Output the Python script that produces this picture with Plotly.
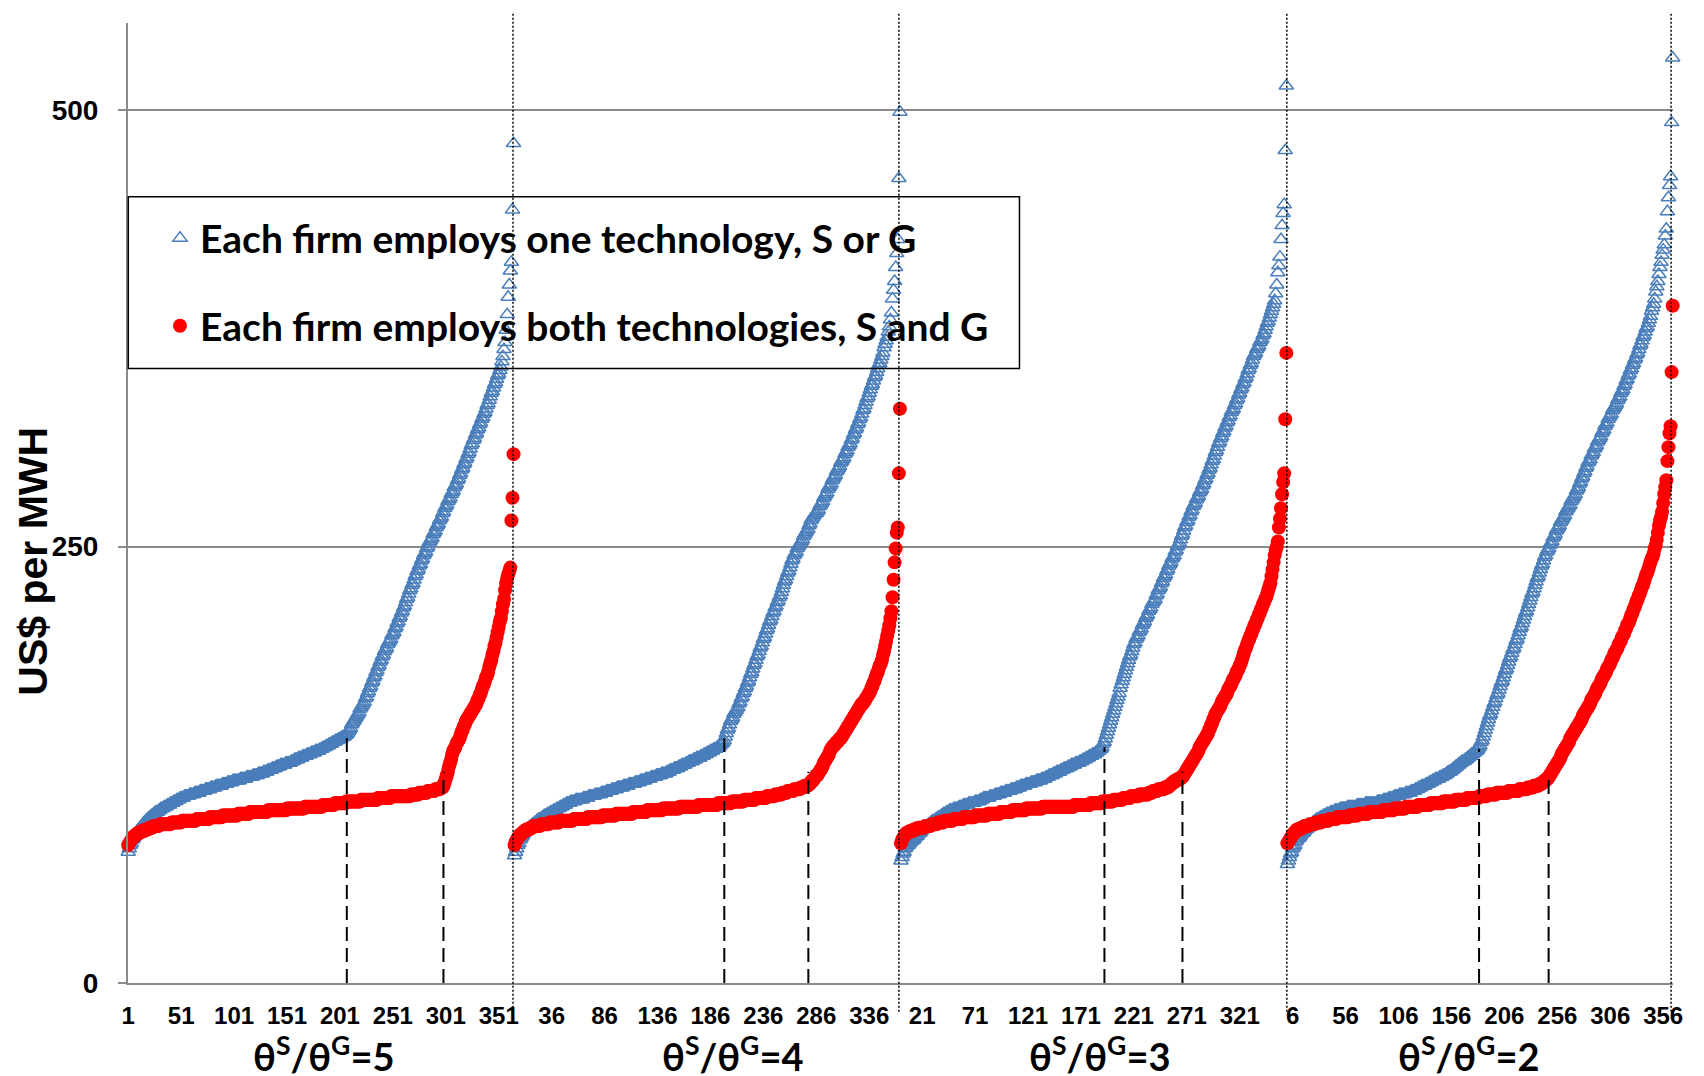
import plotly.graph_objects as go

# ---------------------------------------------------------------------------
# Sorted cost curves (US$ per MWH), 365 firms per scenario.
# "one_*"  : each firm employs one technology, S or G
# "both_*" : each firm employs both technologies, S and G
# ---------------------------------------------------------------------------
one_ratio5 = [
    75, 77, 79, 80, 82, 83, 84, 85, 86, 87, 88, 89, 89, 90, 91, 92, 92, 93, 94, 94,
    95, 95, 96, 96, 97, 97, 98, 98, 98, 99, 99, 100, 100, 100, 101, 101, 101, 102, 102, 102,
    103, 103, 103, 104, 104, 104, 105, 105, 105, 106, 106, 106, 106, 107, 107, 107, 107, 107, 108, 108,
    108, 108, 108, 109, 109, 109, 109, 109, 110, 110, 110, 110, 110, 111, 111, 111, 111, 111, 112, 112,
    112, 112, 112, 113, 113, 113, 113, 113, 113, 114, 114, 114, 114, 114, 115, 115, 115, 115, 115, 116,
    116, 116, 116, 116, 116, 116, 117, 117, 117, 117, 117, 117, 118, 118, 118, 118, 118, 118, 119, 119,
    119, 119, 119, 120, 120, 120, 120, 120, 121, 121, 121, 121, 122, 122, 122, 122, 123, 123, 123, 123,
    124, 124, 124, 124, 125, 125, 125, 125, 125, 126, 126, 126, 126, 126, 127, 127, 127, 128, 128, 128,
    128, 129, 129, 129, 129, 130, 130, 130, 130, 131, 131, 131, 131, 132, 132, 132, 132, 133, 133, 133,
    133, 134, 134, 134, 135, 135, 135, 136, 136, 136, 137, 137, 137, 138, 138, 138, 139, 139, 139, 140,
    140, 140, 141, 141, 141, 142, 142, 143, 144, 145, 146, 148, 149, 150, 151, 152, 153, 154, 155, 157,
    158, 159, 160, 161, 163, 164, 166, 167, 169, 170, 172, 173, 175, 176, 178, 179, 181, 182, 184, 185,
    187, 188, 190, 191, 192, 194, 195, 196, 197, 199, 200, 201, 203, 204, 206, 207, 209, 210, 212, 213,
    215, 216, 218, 220, 221, 223, 225, 226, 228, 229, 231, 233, 234, 236, 237, 239, 240, 242, 243, 245,
    246, 247, 249, 250, 252, 253, 254, 255, 257, 258, 259, 261, 262, 263, 265, 266, 267, 269, 270, 272,
    273, 274, 276, 277, 278, 280, 281, 282, 284, 285, 286, 288, 289, 291, 292, 294, 295, 297, 298, 300,
    301, 303, 304, 306, 308, 309, 311, 312, 314, 315, 317, 318, 320, 321, 323, 324, 326, 327, 329, 331,
    332, 334, 336, 338, 339, 341, 343, 344, 346, 348, 349, 351, 353, 356, 359, 363, 367, 374, 383, 393,
    400, 408, 413, 443, 481,
]
both_ratio5 = [
    79, 80, 81, 82, 83, 84, 84, 85, 85, 86, 86, 86, 87, 87, 87, 87, 88, 88, 88, 88,
    89, 89, 89, 89, 90, 90, 90, 90, 90, 90, 91, 91, 91, 91, 91, 91, 91, 91, 91, 91,
    91, 92, 92, 92, 92, 92, 92, 92, 92, 92, 92, 93, 93, 93, 93, 93, 93, 93, 93, 93,
    93, 93, 93, 93, 93, 94, 94, 94, 94, 94, 94, 94, 94, 94, 94, 94, 94, 95, 95, 95,
    95, 95, 95, 95, 95, 95, 95, 95, 95, 96, 96, 96, 96, 96, 96, 96, 96, 96, 96, 96,
    96, 96, 96, 96, 97, 97, 97, 97, 97, 97, 97, 97, 97, 97, 97, 98, 98, 98, 98, 98,
    98, 98, 98, 98, 98, 98, 98, 98, 98, 98, 98, 98, 99, 99, 99, 99, 99, 99, 99, 99,
    99, 99, 99, 99, 99, 99, 99, 99, 99, 99, 100, 100, 100, 100, 100, 100, 100, 100, 100, 100,
    100, 100, 100, 100, 100, 100, 100, 101, 101, 101, 101, 101, 101, 101, 101, 101, 101, 101, 101, 101,
    101, 101, 101, 101, 102, 102, 102, 102, 102, 102, 102, 102, 102, 102, 102, 103, 103, 103, 103, 103,
    103, 103, 103, 103, 103, 103, 104, 104, 104, 104, 104, 104, 104, 104, 104, 104, 104, 104, 104, 104,
    105, 105, 105, 105, 105, 105, 105, 105, 105, 105, 105, 105, 105, 105, 105, 105, 106, 106, 106, 106,
    106, 106, 106, 106, 106, 106, 106, 106, 107, 107, 107, 107, 107, 107, 107, 107, 107, 107, 107, 107,
    107, 107, 107, 107, 107, 107, 107, 108, 108, 108, 108, 108, 108, 108, 108, 109, 109, 109, 109, 109,
    109, 109, 109, 110, 110, 110, 110, 110, 110, 110, 111, 111, 111, 111, 111, 112, 112, 112, 113, 115,
    117, 119, 121, 124, 126, 128, 131, 133, 134, 135, 137, 138, 139, 140, 142, 144, 145, 147, 148, 150,
    151, 152, 153, 154, 155, 156, 157, 158, 159, 160, 162, 163, 165, 166, 168, 170, 171, 173, 175, 176,
    178, 181, 183, 185, 188, 190, 193, 195, 198, 201, 204, 207, 209, 213, 217, 220, 225, 229, 232, 234,
    236, 238, 265, 278, 303,
]
one_ratio4 = [
    73, 75, 77, 79, 80, 82, 83, 84, 85, 86, 87, 87, 88, 89, 89, 90, 90, 91, 91, 92,
    92, 93, 93, 94, 94, 94, 95, 95, 96, 96, 96, 97, 97, 97, 98, 98, 98, 99, 99, 99,
    100, 100, 100, 101, 101, 101, 102, 102, 102, 103, 103, 103, 103, 104, 104, 104, 104, 104, 105, 105,
    105, 105, 105, 105, 105, 106, 106, 106, 106, 106, 107, 107, 107, 107, 107, 107, 108, 108, 108, 108,
    108, 108, 109, 109, 109, 109, 109, 110, 110, 110, 110, 110, 111, 111, 111, 111, 111, 112, 112, 112,
    112, 112, 112, 113, 113, 113, 113, 113, 114, 114, 114, 114, 114, 114, 115, 115, 115, 115, 115, 116,
    116, 116, 116, 116, 117, 117, 117, 117, 117, 118, 118, 118, 118, 118, 119, 119, 119, 119, 119, 120,
    120, 120, 120, 120, 121, 121, 121, 122, 122, 122, 122, 123, 123, 123, 123, 124, 124, 124, 125, 125,
    125, 125, 126, 126, 126, 127, 127, 127, 127, 128, 128, 128, 129, 129, 129, 129, 130, 130, 130, 131,
    131, 131, 132, 132, 132, 133, 133, 133, 134, 134, 134, 135, 135, 135, 136, 137, 137, 138, 139, 141,
    143, 145, 146, 148, 150, 151, 152, 154, 155, 156, 157, 158, 160, 161, 163, 164, 166, 167, 169, 170,
    172, 173, 175, 177, 178, 180, 182, 183, 185, 187, 188, 190, 192, 193, 195, 197, 198, 200, 202, 203,
    205, 207, 208, 210, 212, 213, 215, 216, 218, 219, 221, 222, 224, 226, 228, 230, 231, 233, 235, 236,
    238, 240, 242, 243, 245, 246, 247, 249, 250, 251, 252, 253, 254, 256, 257, 258, 259, 260, 262, 263,
    265, 266, 267, 268, 269, 269, 270, 271, 273, 274, 275, 276, 278, 279, 280, 281, 283, 284, 285, 286,
    288, 289, 290, 291, 293, 294, 295, 296, 298, 299, 300, 301, 303, 304, 305, 307, 308, 309, 311, 312,
    314, 315, 317, 318, 320, 321, 323, 324, 326, 328, 329, 331, 333, 335, 336, 338, 340, 342, 343, 345,
    347, 348, 350, 352, 354, 355, 357, 359, 361, 364, 366, 368, 370, 373, 376, 380, 384, 392, 397, 402,
    410, 418, 426, 461, 499,
]
both_ratio4 = [
    79, 81, 82, 83, 84, 85, 85, 86, 86, 87, 87, 88, 88, 88, 88, 89, 89, 89, 90, 90,
    90, 90, 90, 90, 90, 91, 91, 91, 91, 91, 91, 91, 91, 92, 92, 92, 92, 92, 92, 92,
    92, 92, 92, 93, 93, 93, 93, 93, 93, 93, 93, 93, 93, 93, 93, 93, 94, 94, 94, 94,
    94, 94, 94, 94, 94, 94, 94, 94, 94, 95, 95, 95, 95, 95, 95, 95, 95, 95, 95, 95,
    95, 95, 95, 96, 96, 96, 96, 96, 96, 96, 96, 96, 96, 96, 96, 96, 97, 97, 97, 97,
    97, 97, 97, 97, 97, 97, 97, 97, 97, 97, 97, 97, 98, 98, 98, 98, 98, 98, 98, 98,
    98, 98, 98, 98, 98, 99, 99, 99, 99, 99, 99, 99, 99, 99, 99, 99, 99, 99, 99, 99,
    100, 100, 100, 100, 100, 100, 100, 100, 100, 100, 100, 100, 100, 100, 100, 100, 101, 101, 101, 101,
    101, 101, 101, 101, 101, 101, 101, 101, 101, 101, 101, 101, 101, 101, 102, 102, 102, 102, 102, 102,
    102, 102, 102, 102, 102, 102, 102, 102, 102, 102, 102, 102, 103, 103, 103, 103, 103, 103, 103, 103,
    103, 103, 103, 103, 103, 104, 104, 104, 104, 104, 104, 104, 104, 104, 104, 104, 104, 105, 105, 105,
    105, 105, 105, 105, 105, 105, 105, 105, 106, 106, 106, 106, 106, 106, 106, 106, 106, 106, 107, 107,
    107, 107, 107, 107, 107, 107, 108, 108, 108, 108, 108, 108, 108, 109, 109, 109, 109, 109, 110, 110,
    110, 110, 110, 110, 111, 111, 111, 111, 111, 111, 112, 112, 112, 112, 113, 113, 113, 113, 114, 114,
    115, 116, 116, 117, 118, 119, 119, 120, 121, 122, 123, 124, 126, 127, 128, 129, 130, 131, 133, 134,
    135, 136, 136, 137, 138, 138, 139, 140, 140, 141, 142, 143, 144, 145, 146, 147, 148, 149, 150, 151,
    152, 153, 154, 155, 156, 157, 158, 159, 160, 160, 161, 162, 163, 164, 165, 166, 167, 169, 170, 172,
    173, 175, 177, 178, 180, 182, 183, 185, 188, 190, 193, 196, 199, 202, 205, 209, 213, 221, 231, 241,
    249, 258, 261, 292, 329,
]
one_ratio3 = [
    70, 72, 74, 75, 77, 78, 79, 79, 80, 81, 81, 82, 82, 83, 84, 84, 85, 86, 86, 87,
    88, 88, 89, 89, 90, 90, 91, 91, 92, 92, 93, 93, 93, 94, 94, 95, 95, 95, 96, 96,
    97, 97, 97, 98, 98, 98, 99, 99, 99, 99, 100, 100, 100, 100, 100, 101, 101, 101, 101, 102,
    102, 102, 102, 102, 103, 103, 103, 103, 103, 103, 104, 104, 104, 104, 104, 105, 105, 105, 106, 106,
    106, 106, 106, 106, 107, 107, 107, 107, 107, 108, 108, 108, 108, 108, 109, 109, 109, 109, 109, 110,
    110, 110, 110, 110, 111, 111, 111, 111, 111, 112, 112, 112, 112, 113, 113, 113, 113, 113, 114, 114,
    114, 114, 114, 115, 115, 115, 115, 115, 116, 116, 116, 116, 116, 117, 117, 117, 117, 118, 118, 118,
    119, 119, 119, 119, 120, 120, 120, 121, 121, 121, 121, 122, 122, 122, 123, 123, 123, 123, 124, 124,
    124, 125, 125, 125, 125, 126, 126, 126, 126, 127, 127, 127, 128, 128, 128, 129, 129, 129, 130, 130,
    130, 131, 131, 131, 132, 132, 133, 133, 134, 134, 135, 137, 138, 140, 142, 144, 146, 148, 150, 152,
    154, 156, 158, 160, 162, 164, 166, 169, 171, 173, 175, 177, 179, 181, 183, 185, 187, 188, 190, 192,
    194, 195, 197, 198, 199, 201, 202, 203, 205, 206, 207, 209, 210, 211, 213, 214, 215, 217, 218, 219,
    220, 222, 223, 225, 226, 227, 229, 230, 232, 233, 234, 236, 237, 239, 240, 241, 243, 244, 245, 247,
    248, 250, 251, 252, 254, 256, 257, 259, 261, 262, 264, 265, 267, 268, 270, 271, 273, 274, 275, 277,
    278, 279, 281, 282, 283, 285, 286, 288, 289, 291, 292, 294, 295, 297, 299, 300, 302, 304, 305, 307,
    309, 310, 312, 313, 315, 316, 318, 319, 321, 322, 324, 325, 327, 328, 329, 331, 332, 334, 335, 337,
    338, 340, 341, 343, 344, 346, 347, 349, 351, 352, 354, 355, 357, 359, 360, 361, 363, 364, 365, 367,
    368, 369, 371, 372, 374, 376, 378, 379, 381, 383, 385, 387, 389, 391, 395, 400, 407, 411, 416, 426,
    434, 441, 446, 477, 514,
]
both_ratio3 = [
    80, 82, 83, 84, 85, 86, 86, 86, 87, 87, 87, 87, 88, 88, 88, 88, 89, 89, 89, 89,
    89, 89, 89, 90, 90, 90, 90, 90, 90, 91, 91, 91, 91, 91, 91, 92, 92, 92, 92, 92,
    92, 93, 93, 93, 93, 93, 93, 93, 93, 93, 94, 94, 94, 94, 94, 94, 94, 94, 94, 95,
    95, 95, 95, 95, 95, 95, 95, 95, 95, 95, 96, 96, 96, 96, 96, 96, 96, 96, 96, 96,
    96, 96, 97, 97, 97, 97, 97, 97, 97, 97, 97, 97, 97, 97, 98, 98, 98, 98, 98, 98,
    98, 98, 98, 98, 98, 99, 99, 99, 99, 99, 99, 99, 99, 99, 99, 99, 99, 99, 100, 100,
    100, 100, 100, 100, 100, 100, 100, 100, 100, 100, 100, 100, 100, 100, 101, 101, 101, 101, 101, 101,
    101, 101, 101, 101, 101, 101, 101, 101, 101, 101, 101, 101, 101, 101, 101, 101, 101, 101, 101, 101,
    101, 101, 101, 101, 102, 102, 102, 102, 102, 102, 102, 102, 102, 102, 102, 102, 102, 102, 102, 103,
    103, 103, 103, 103, 103, 103, 103, 103, 103, 103, 104, 104, 104, 104, 104, 104, 104, 104, 104, 104,
    104, 105, 105, 105, 105, 105, 105, 105, 105, 105, 106, 106, 106, 106, 106, 106, 106, 107, 107, 107,
    107, 107, 107, 107, 107, 108, 108, 108, 108, 108, 108, 108, 108, 108, 109, 109, 109, 109, 110, 110,
    110, 110, 110, 111, 111, 111, 111, 111, 111, 112, 112, 112, 112, 113, 113, 114, 114, 115, 115, 116,
    116, 116, 117, 117, 117, 118, 118, 119, 120, 121, 122, 123, 124, 125, 126, 127, 128, 129, 130, 131,
    132, 133, 135, 136, 137, 138, 139, 140, 141, 142, 143, 145, 146, 148, 149, 151, 152, 154, 155, 156,
    157, 158, 159, 161, 162, 163, 164, 165, 166, 168, 169, 170, 171, 173, 174, 175, 176, 178, 179, 180,
    182, 183, 185, 187, 189, 191, 192, 194, 196, 197, 199, 200, 202, 203, 205, 206, 208, 209, 211, 212,
    214, 215, 217, 218, 220, 221, 223, 225, 227, 229, 233, 237, 241, 245, 248, 250, 253, 261, 266, 272,
    280, 287, 292, 323, 361,
]
one_ratio2 = [
    68, 70, 72, 74, 75, 77, 78, 79, 81, 82, 83, 83, 84, 85, 86, 86, 87, 88, 88, 89,
    89, 90, 90, 91, 92, 92, 93, 93, 94, 94, 94, 95, 95, 95, 96, 96, 96, 97, 97, 97,
    97, 98, 98, 98, 98, 99, 99, 99, 99, 99, 100, 100, 100, 100, 100, 100, 100, 101, 101, 101,
    101, 101, 101, 101, 101, 101, 102, 102, 102, 102, 102, 102, 102, 102, 103, 103, 103, 103, 103, 103,
    103, 103, 103, 103, 103, 104, 104, 104, 104, 104, 104, 105, 105, 105, 105, 105, 106, 106, 106, 106,
    106, 107, 107, 107, 107, 107, 108, 108, 108, 108, 108, 108, 109, 109, 109, 109, 109, 110, 110, 110,
    110, 111, 111, 111, 112, 112, 112, 113, 113, 113, 113, 114, 114, 114, 115, 115, 115, 116, 116, 116,
    117, 117, 117, 117, 118, 118, 118, 119, 119, 119, 120, 120, 121, 121, 121, 122, 122, 123, 123, 124,
    124, 125, 125, 126, 126, 127, 127, 127, 128, 128, 129, 129, 130, 130, 131, 131, 132, 132, 133, 133,
    134, 135, 136, 138, 139, 141, 143, 145, 147, 149, 151, 153, 154, 156, 158, 160, 161, 163, 165, 166,
    168, 170, 172, 173, 175, 177, 179, 180, 182, 184, 186, 187, 189, 191, 192, 194, 196, 197, 199, 201,
    203, 204, 206, 208, 210, 212, 213, 215, 217, 219, 221, 223, 224, 226, 228, 230, 232, 233, 235, 237,
    239, 240, 242, 244, 245, 247, 248, 249, 251, 252, 253, 255, 256, 257, 259, 260, 261, 262, 264, 265,
    266, 267, 268, 270, 271, 272, 273, 274, 276, 277, 278, 279, 280, 282, 283, 284, 286, 287, 289, 290,
    292, 293, 295, 296, 298, 299, 300, 302, 303, 304, 306, 307, 308, 310, 311, 312, 313, 315, 316, 317,
    319, 320, 321, 323, 324, 325, 326, 328, 329, 330, 331, 332, 334, 335, 336, 338, 339, 340, 342, 343,
    345, 346, 348, 349, 351, 352, 354, 355, 357, 358, 360, 361, 363, 365, 366, 368, 370, 371, 373, 375,
    376, 378, 380, 382, 385, 387, 389, 392, 396, 399, 402, 406, 410, 413, 417, 420, 423, 428, 432, 442,
    450, 457, 462, 493, 530,
]
both_ratio2 = [
    80, 81, 82, 83, 84, 85, 86, 86, 87, 88, 88, 88, 88, 89, 89, 89, 90, 90, 90, 90,
    90, 91, 91, 91, 91, 91, 91, 92, 92, 92, 92, 92, 92, 93, 93, 93, 93, 93, 93, 93,
    94, 94, 94, 94, 94, 94, 94, 95, 95, 95, 95, 95, 95, 95, 95, 95, 95, 95, 96, 96,
    96, 96, 96, 96, 96, 96, 96, 97, 97, 97, 97, 97, 97, 97, 97, 97, 97, 98, 98, 98,
    98, 98, 98, 98, 98, 98, 98, 98, 98, 98, 99, 99, 99, 99, 99, 99, 99, 99, 99, 99,
    99, 100, 100, 100, 100, 100, 100, 100, 100, 100, 100, 100, 101, 101, 101, 101, 101, 101, 101, 101,
    101, 101, 101, 101, 102, 102, 102, 102, 102, 102, 102, 102, 102, 102, 102, 103, 103, 103, 103, 103,
    103, 103, 103, 103, 103, 103, 103, 104, 104, 104, 104, 104, 104, 104, 104, 104, 104, 104, 104, 105,
    105, 105, 105, 105, 105, 105, 105, 105, 105, 105, 106, 106, 106, 106, 106, 106, 106, 106, 106, 106,
    106, 107, 107, 107, 107, 107, 107, 107, 107, 108, 108, 108, 108, 108, 108, 108, 108, 108, 109, 109,
    109, 109, 109, 109, 109, 109, 109, 109, 109, 110, 110, 110, 110, 110, 110, 110, 110, 110, 110, 111,
    111, 111, 111, 111, 111, 111, 111, 112, 112, 112, 112, 112, 112, 113, 113, 113, 113, 113, 114, 114,
    114, 115, 115, 116, 116, 117, 117, 118, 119, 120, 121, 122, 123, 124, 125, 126, 127, 128, 129, 131,
    132, 133, 134, 135, 136, 137, 138, 140, 141, 142, 143, 144, 145, 146, 147, 148, 149, 150, 151, 153,
    154, 155, 156, 157, 158, 159, 160, 162, 163, 164, 165, 166, 168, 169, 170, 171, 172, 174, 175, 176,
    177, 178, 180, 181, 182, 183, 185, 186, 187, 189, 190, 191, 192, 194, 195, 196, 198, 199, 200, 202,
    203, 205, 206, 207, 209, 211, 212, 214, 215, 217, 219, 220, 222, 223, 225, 227, 228, 230, 232, 234,
    235, 237, 239, 241, 243, 244, 246, 249, 251, 254, 258, 262, 265, 267, 270, 275, 280, 284, 288, 299,
    307, 315, 319, 350, 388,
]

# Scenario order along the axis (left to right)
one_tech = [one_ratio5, one_ratio4, one_ratio3, one_ratio2]
both_tech = [both_ratio5, both_ratio4, both_ratio3, both_ratio2]
panel_titles = [
    "θ<sup>S</sup>/θ<sup>G</sup>=5",
    "θ<sup>S</sup>/θ<sup>G</sup>=4",
    "θ<sup>S</sup>/θ<sup>G</sup>=3",
    "θ<sup>S</sup>/θ<sup>G</sup>=2",
]
FIRMS = 365

# Category axis: a label every 50 firms, numbering restarts in each scenario
tick_labels = [
    "1", "51", "101", "151", "201", "251", "301", "351",
    "36", "86", "136", "186", "236", "286", "336",
    "21", "71", "121", "171", "221", "271", "321",
    "6", "56", "106", "156", "206", "256", "306", "356",
]
tick_positions = list(range(1, 1452, 50))

# Firm index where each curve turns steep (dashed guides) and guide top level
switch_one = [(207.5, 142), (564.1, 141), (923.2, 135), (1277.1, 134)]
switch_both = [(298.8, 121), (643.5, 121), (996.9, 121), (1342.8, 119)]
# Separators between scenarios (dotted)
separators = [364.5, 729.0, 1095.5, 1458.5]

for series in one_tech + both_tech:
    assert len(series) == FIRMS, len(series)

x_all, one_all, both_all = [], [], []
for p in range(4):
    x_all += [p * FIRMS + k + 1 for k in range(FIRMS)]
    one_all += one_tech[p]
    both_all += both_tech[p]

BLUE = "#4A7EBB"
RED = "#FF0000"
GRID = "#8A8A8A"
TEXT_FONT = "Lato, 'Open Sans', sans-serif"
AXIS_FONT = "'Liberation Sans', Arial, sans-serif"

fig = go.Figure()
fig.add_trace(go.Scatter(
    x=x_all, y=one_all, mode="markers",
    name="Each firm employs one technology, S or G",
    marker=dict(symbol="triangle-up-open", size=12.5, color=BLUE,
                line=dict(width=1.5, color=BLUE)),
    cliponaxis=False, legendgroup="one",
))
fig.add_trace(go.Scatter(
    x=x_all, y=both_all, mode="markers",
    name="Each firm employs both technologies, S and G",
    marker=dict(symbol="circle", size=14, color=RED, line=dict(width=0)),
    cliponaxis=False, legendgroup="both",
))

shapes = []
for xs in separators:
    shapes.append(dict(type="line", xref="x", yref="paper", x0=xs, x1=xs,
                       y0=-0.03, y1=1.011,
                       line=dict(color="black", width=1.5, dash="2px,2px")))
for xs, top in switch_one + switch_both:
    shapes.append(dict(type="line", xref="x", yref="y", x0=xs, x1=xs,
                       y0=0, y1=top,
                       line=dict(color="black", width=2, dash="14px,7px")))
# legend frame
shapes.append(dict(type="rect", xref="paper", yref="paper",
                   x0=0.0002, x1=0.577, y0=0.6402, y1=0.8191,
                   line=dict(color="black", width=1.5), fillcolor="rgba(0,0,0,0)"))

annotations = []
title_x = [0.1268, 0.3916, 0.6291, 0.8678]
for tx, txt in zip(title_x, panel_titles):
    annotations.append(dict(text=txt, xref="paper", yref="paper", x=tx, y=-0.074,
                            xanchor="center", yanchor="middle", showarrow=False,
                            font=dict(family=TEXT_FONT, size=38, color="black", weight="bold")))
annotations.append(dict(text="US$ per MWH", xref="paper", yref="paper",
                        x=-0.0617, y=0.4396, xanchor="center", yanchor="middle",
                        textangle=-90, showarrow=False,
                        font=dict(family=AXIS_FONT, size=41, color="black", weight="bold")))

fig.update_layout(
    width=1704, height=1076,
    margin=dict(l=128, r=31, t=23, b=93),
    paper_bgcolor="white", plot_bgcolor="white",
    shapes=shapes, annotations=annotations,
    showlegend=True,
    legend=dict(
        x=0.0207, y=0.8092, xanchor="left", yanchor="top",
        bgcolor="rgba(0,0,0,0)", borderwidth=0,
        font=dict(family=TEXT_FONT, size=39, color="black", weight="bold"),
        traceorder="grouped", tracegroupgap=34, itemsizing="trace",
    ),
    xaxis=dict(
        range=[0.8, 1460.3], showgrid=False, zeroline=False,
        showline=True, linecolor=GRID, linewidth=2,
        tickmode="array", tickvals=tick_positions, ticktext=tick_labels,
        ticks="", ticklabelstandoff=10,
        tickfont=dict(family=AXIS_FONT, size=24, color="black", weight="bold"),
    ),
    yaxis=dict(
        range=[0, 550], tickmode="array", tickvals=[0, 250, 500],
        showgrid=True, gridcolor=GRID, gridwidth=1.5, zeroline=False,
        showline=True, linecolor=GRID, linewidth=2,
        ticks="outside", ticklen=8, tickcolor=GRID, tickwidth=1.5,
        ticklabelstandoff=14,
        tickfont=dict(family=AXIS_FONT, size=28, color="black", weight="bold"),
    ),
)

fig.write_html("out.html")
